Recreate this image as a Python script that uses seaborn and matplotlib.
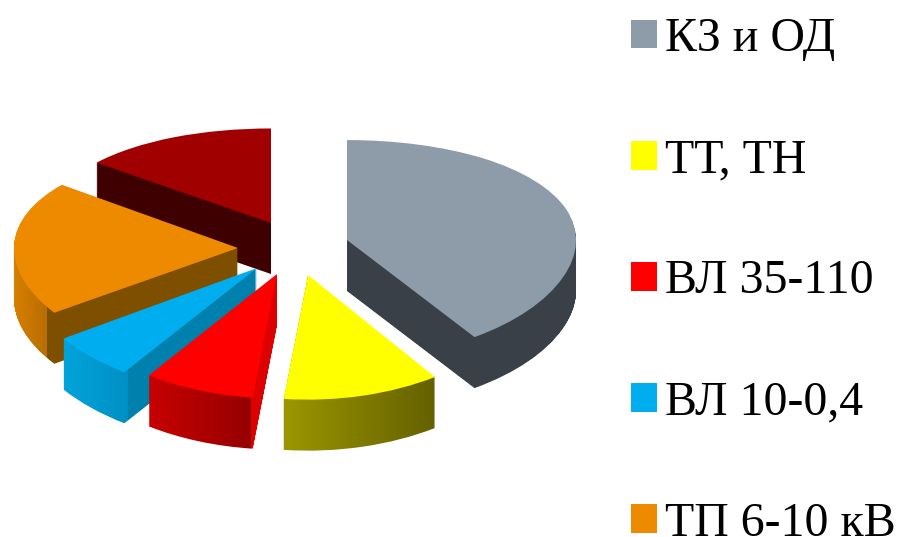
import numpy as np
import matplotlib
matplotlib.use("Agg")
import matplotlib.pyplot as plt
from matplotlib.patches import Patch
from matplotlib.path import Path
from matplotlib.colors import to_rgb
import seaborn as sns

# slices clockwise from 12 o'clock, in percent
shares = [40.6, 11.1, 7.8, 5.8, 20.3, 14.4]
labels = ["КЗ и ОД", "ТТ, ТН", "ВЛ 35-110", "ВЛ 10-0,4", "ТП 6-10 кВ"]
top_colors = ["#8e9ba8", "#ffff00", "#ff0000", "#00aeef", "#ed8a00", "#a00000"]

sns.set_theme(style="white")
plt.rcParams["font.family"] = ["Liberation Serif", "DejaVu Sans"]
palette = sns.color_palette(top_colors)

W, H = 902, 537
DEPTH = 51      # height of the pie in pixels
# tilt grows towards the viewer: squash = A + B * pixel row
A, B = 0.295, 0.00075


def row_to_y(py):
    return -np.log(A + B * np.asarray(py, dtype=float)) / B


def y_to_row(y):
    return (np.exp(-B * np.asarray(y, dtype=float)) - A) / B


# layout: apex of each slice and its radius, in picture pixels
apex = [(347, 240), (308, 275), (277, 274), (257, 268), (238, 248), (271, 223)]
radius = [229, 228, 228, 236, 224, 222]
# side shading: colour stops over picture x
side_stops = [
    [(347, "#3a4048"), (575, "#3a4048")],
    [(285, "#9b9600"), (436, "#646000")],
    [(148, "#c80000"), (250, "#960000"), (251, "#dc0000"), (277, "#dc0000")],
    [(62, "#00a4dc"), (127, "#0090c4"), (128, "#0080ac"), (257, "#0080ac")],
    [(12, "#d88000"), (46, "#b86e00"), (47, "#7f4f00"), (238, "#7f4f00")],
    [(98, "#3e0000"), (271, "#3e0000")],
]
draw_order = [5, 0, 4, 3, 2, 1]

fig = plt.figure(figsize=(W / 100, H / 100), dpi=100)
ax = fig.add_axes([0, 0, 1, 1])
y_low, y_high = float(row_to_y(H)), float(row_to_y(0))

starts = np.concatenate([[0], np.cumsum(shares)[:-1]]) * 3.6
for z, i in enumerate(draw_order):
    cx, cy = apex[i]
    wedges, _ = ax.pie(
        [shares[i], 100 - shares[i]],
        colors=[palette[i], "none"],
        startangle=90 - starts[i],
        counterclock=False,
        center=(cx, float(row_to_y(cy))),
        radius=radius[i],
        wedgeprops={"zorder": 10 * z + 2, "linewidth": 0},
    )
    wedges[1].remove()
    top = wedges[0]
    p = top.get_path().transformed(top.get_patch_transform())
    # side is the top face swept down, filled by a horizontal gradient clipped to it
    layers = []
    for d in range(1, DEPTH + 1):
        v = p.vertices.copy()
        v[:, 1] = row_to_y(y_to_row(v[:, 1]) + d)
        layers.append(Path(v, p.codes))
    swept = Path.make_compound_path(*layers)
    xs = np.arange(W)
    stops = side_stops[i]
    sx = [s[0] for s in stops]
    rgb = np.array([to_rgb(s[1]) for s in stops])
    grad = np.stack([np.interp(xs, sx, rgb[:, c]) for c in range(3)], axis=1)[None, :, :]
    im = ax.imshow(grad, extent=(0, W, y_low, y_high), aspect="auto", zorder=10 * z + 1,
                   interpolation="nearest")
    im.set_clip_path(swept, ax.transData)

ax.set_aspect("auto")
ax.set_yscale("function", functions=(lambda y: -y_to_row(y), lambda t: row_to_y(-np.asarray(t))))
ax.set_xlim(0, W)
ax.set_ylim(y_low, y_high)
ax.axis("off")

handles = [Patch(facecolor=palette[i], edgecolor="none", label=labels[i]) for i in range(len(labels))]
ax.legend(
    handles=handles,
    loc="upper left",
    bbox_to_anchor=(631 / W, 1 - 17 / H),
    frameon=False,
    fontsize=34.5,
    labelcolor="black",
    borderpad=0,
    borderaxespad=0,
    handlelength=0.545,
    handleheight=0.545,
    handletextpad=0.17,
    labelspacing=1.61,
)

fig.savefig("out.png", dpi=100)
